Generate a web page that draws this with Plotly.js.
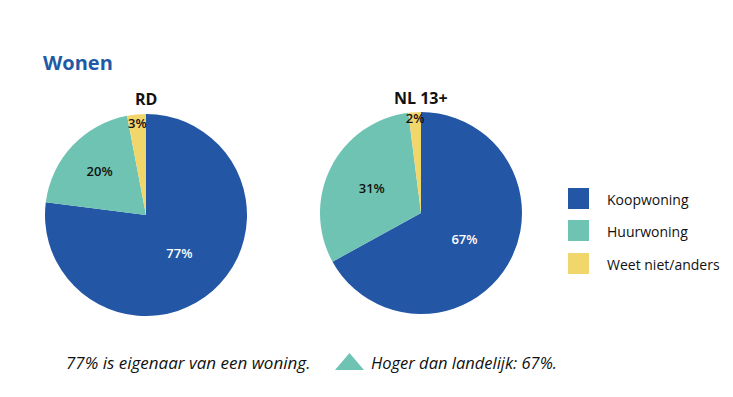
<!DOCTYPE html>
<html><head><meta charset="utf-8">
<script src="https://cdn.plot.ly/plotly-3.0.1.min.js"></script>
<style>html,body{margin:0;padding:0;background:#fff;}#chart{width:733px;height:397px;}</style>
</head><body><div id="chart"></div>
<script>
const categories = ["Koopwoning", "Huurwoning", "Weet niet/anders"];
const rdValues = [77, 20, 3];
const nlValues = [67, 31, 2];
const groupNames = ["RD", "NL 13+"];
const chartTitle = "Wonen";
const footerLeft = "77% is eigenaar van een woning.";
const footerRight = "Hoger dan landelijk: 67%.";

const colors = ["#2357a5", "#6fc3b3", "#f1d66c"];
const textColors = ["#ffffff", "#111111", "#111111"];
const W = 733, H = 397;
const FONT = "'Open Sans', sans-serif";

function pie(values, dom) {
  return {
    type: "pie", values: values, labels: categories, sort: false,
    direction: "clockwise", rotation: 0,
    marker: {colors: colors, line: {width: 0}},
    texttemplate: "%{percent:.0%}", textinfo: "percent",
    textposition: "inside", insidetextorientation: "horizontal",
    insidetextfont: {color: textColors, size: 13, family: FONT, weight: 600},
    hoverinfo: "label+percent", showlegend: false,
    domain: dom
  };
}

const data = [
  pie(rdValues, {x: [45/W, 247/W], y: [1 - 316/H, 1 - 114/H]}),
  pie(nlValues, {x: [320/W, 522/W], y: [1 - 314/H, 1 - 112/H]})
];

const shapes = [];
const annotations = [
  {text: "<b>" + chartTitle + "</b>", x: 41/W, y: 1 - 63/H, xref: "paper", yref: "paper",
   xanchor: "left", yanchor: "middle", showarrow: false, font: {size: 20, color: "#1f5aa6", family: FONT}},
  {text: "<b>" + groupNames[0] + "</b>", x: 146/W, y: 1 - 99/H, xref: "paper", yref: "paper",
   xanchor: "center", yanchor: "middle", showarrow: false, font: {size: 16, color: "#111", family: FONT}},
  {text: "<b>" + groupNames[1] + "</b>", x: 421/W, y: 1 - 98/H, xref: "paper", yref: "paper",
   xanchor: "center", yanchor: "middle", showarrow: false, font: {size: 16, color: "#111", family: FONT}},
  {text: "<i>" + footerLeft + "</i>", x: 64/W, y: 1 - 362/H, xref: "paper", yref: "paper",
   xanchor: "left", yanchor: "middle", showarrow: false, font: {size: 17, color: "#111", family: FONT}},
  {text: "<i>" + footerRight + "</i>", x: 369/W, y: 1 - 362/H, xref: "paper", yref: "paper",
   xanchor: "left", yanchor: "middle", showarrow: false, font: {size: 16.5, color: "#111", family: FONT}}
];

const legendTops = [188, 220, 253];
categories.forEach((c, i) => {
  const t = legendTops[i];
  shapes.push({type: "rect", xref: "paper", yref: "paper",
    x0: 568/W, x1: 589/W, y0: 1 - (t + 21)/H, y1: 1 - t/H,
    fillcolor: colors[i], line: {width: 0}});
  annotations.push({text: c, x: 605/W, y: 1 - (t + 11)/H, xref: "paper", yref: "paper",
    xanchor: "left", yanchor: "middle", showarrow: false, font: {size: 14, color: "#111", family: FONT}});
});
// triangle marker in footer
shapes.push({type: "path", xref: "paper", yref: "paper",
  path: `M ${335/W} ${1 - 370/H} L ${364/W} ${1 - 370/H} L ${349.5/W} ${1 - 353/H} Z`,
  fillcolor: colors[1], line: {width: 0}});

const layout = {
  width: W, height: H, margin: {l: 0, r: 0, t: 0, b: 0},
  paper_bgcolor: "#fff", plot_bgcolor: "#fff",
  showlegend: false, shapes: shapes, annotations: annotations,
  uniformtext: {mode: "show", minsize: 13},
  font: {family: FONT}
};
Plotly.newPlot("chart", data, layout, {displayModeBar: false, staticPlot: true});
</script></body></html>
